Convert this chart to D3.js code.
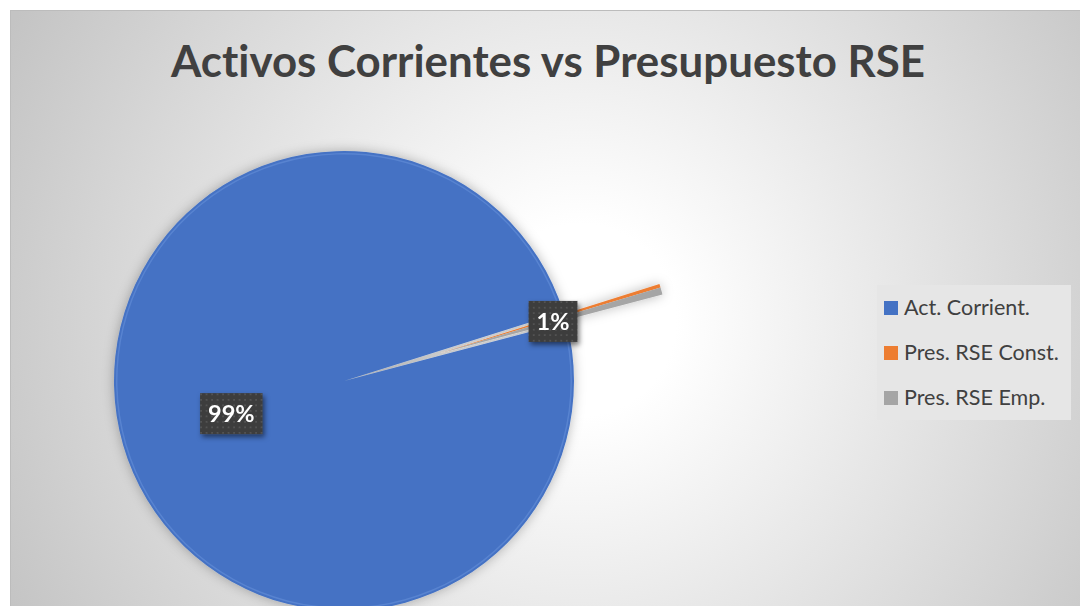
<!DOCTYPE html>
<html><head><meta charset="utf-8">
<script src="https://cdn.jsdelivr.net/npm/d3@7"></script>
<style>html,body{margin:0;padding:0;background:#fff;} svg{display:block;} text{font-variant-ligatures:none;font-feature-settings:"liga" 0;}</style>
</head><body>
<svg id="chart" width="1080" height="606"></svg>
<script>
// ---- data ----
const chartTitle = "Activos Corrientes vs Presupuesto RSE";
const categories = ["Act. Corrient.", "Pres. RSE Const.", "Pres. RSE Emp."];
const values = [99.25, 0.25, 0.5];
const colors = ["#4472C4", "#ED7D31", "#A5A5A5"];

// ---- layout / style ----
const W = 1080, H = 606;
const cx = 344, cy = 381, R = 230;
const startDeg = 75.2;
const explodeFrac = 0.435;
const labelFrac = 0.51;
const font = "Lato, 'Open Sans', sans-serif";

const svg = d3.select("#chart");
const defs = svg.append("defs");

const grad = defs.append("radialGradient").attr("id", "bg")
  .attr("gradientUnits", "userSpaceOnUse").attr("cx", 580).attr("cy", 320).attr("r", 640);
grad.append("stop").attr("offset", 0).attr("stop-color", "#ffffff");
grad.append("stop").attr("offset", 0.15).attr("stop-color", "#ffffff");
grad.append("stop").attr("offset", 1).attr("stop-color", "#c4c4c4");

const pf = defs.append("filter").attr("id", "pieShadow")
  .attr("x", "-20%").attr("y", "-20%").attr("width", "140%").attr("height", "140%");
pf.append("feDropShadow").attr("dx", 0).attr("dy", 0).attr("stdDeviation", 6)
  .attr("flood-color", "#000").attr("flood-opacity", 0.28);

const lf = defs.append("filter").attr("id", "lblShadow")
  .attr("x", "-30%").attr("y", "-30%").attr("width", "160%").attr("height", "160%");
lf.append("feDropShadow").attr("dx", 2).attr("dy", 3).attr("stdDeviation", 2.5)
  .attr("flood-color", "#000").attr("flood-opacity", 0.5);

const pat = defs.append("pattern").attr("id", "dots").attr("patternUnits", "userSpaceOnUse")
  .attr("width", 5.5).attr("height", 5.5);
pat.append("rect").attr("width", 5.5).attr("height", 5.5).attr("fill", "#3d3d3d");
pat.append("rect").attr("x", 2).attr("y", 2).attr("width", 1.5).attr("height", 1.5).attr("fill", "#5c5c5c");

// background chart area
svg.append("rect").attr("width", W).attr("height", H).attr("fill", "#ffffff");
svg.append("rect").attr("x", 10.5).attr("y", 10.5).attr("width", W).attr("height", H)
  .attr("fill", "url(#bg)").attr("stroke", "#bcbcbc").attr("stroke-width", 1);

// title
svg.append("text").attr("x", 548).attr("y", 77).attr("text-anchor", "middle")
  .attr("font-family", font).attr("font-weight", 700).attr("font-size", 44)
  .attr("fill", "#404040").attr("textLength", 754).attr("lengthAdjust", "spacingAndGlyphs")
  .text(chartTitle);

// pie
const data = categories.map((c, i) => ({ name: c, value: values[i], color: colors[i] }));
const total = d3.sum(values);
const a0 = startDeg * Math.PI / 180;
const pie = d3.pie().sort(null).value(d => d.value).startAngle(a0).endAngle(a0 + 2 * Math.PI);
const arcs = pie(data);
const arc = d3.arc().innerRadius(0).outerRadius(R);
const small = arcs.filter(a => a.index > 0);
const midSmall = (d3.min(small, a => a.startAngle) + d3.max(small, a => a.endAngle)) / 2;
const ex = explodeFrac * R;
const offset = a => a.index > 0 ? [Math.sin(midSmall) * ex, -Math.cos(midSmall) * ex] : [0, 0];

const g = svg.append("g").attr("transform", `translate(${cx},${cy})`);
const pg = g.append("g").attr("filter", "url(#pieShadow)");
pg.selectAll("path.slice").data(arcs).join("path").attr("class", "slice")
  .attr("transform", a => `translate(${offset(a)})`)
  .attr("d", arc).attr("fill", a => a.data.color);

// subtle bevel ring on main slice
const bevel = d3.arc().innerRadius(R - 3.5).outerRadius(R - 2);
g.append("path").datum(arcs[0]).attr("d", bevel).attr("fill", "#6f9ae0").attr("opacity", 0.45);

// labels
const labelArc = d3.arc().innerRadius(R * labelFrac).outerRadius(R * labelFrac);
const lbls = arcs.filter(a => Math.round(a.data.value / total * 100) >= 1);
const lg = g.selectAll("g.lbl").data(lbls).join("g").attr("class", "lbl")
  .attr("transform", a => {
    const c = labelArc.centroid(a), o = offset(a);
    return `translate(${c[0] + o[0]},${c[1] + o[1]})`;
  });
lg.each(function (a) {
  const s = d3.select(this);
  const rect = s.append("rect").attr("fill", "url(#dots)").attr("filter", "url(#lblShadow)");
  const t = s.append("text").attr("text-anchor", "middle").attr("y", 8.5)
    .attr("font-family", font).attr("font-weight", 700).attr("font-size", 23.5)
    .attr("fill", "#ffffff").text(Math.round(a.data.value / total * 100) + "%");
  const w = t.node().getComputedTextLength() + 16, h = 41;
  rect.attr("x", -w / 2).attr("y", -h / 2).attr("width", w).attr("height", h);
  t.raise();
});

// legend
const leg = svg.append("g");
leg.append("rect").attr("x", 877).attr("y", 285).attr("width", 194).attr("height", 135).attr("fill", "#e6e6e6");
const li = leg.selectAll("g.li").data(data).join("g").attr("class", "li")
  .attr("transform", (d, i) => `translate(884,${301 + i * 45})`);
li.append("rect").attr("width", 14).attr("height", 14).attr("fill", d => d.color);
li.append("text").attr("x", 20).attr("y", 14).attr("font-family", font).attr("font-size", 21.5)
  .attr("fill", "#404040").text(d => d.name);
</script>
</body></html>
